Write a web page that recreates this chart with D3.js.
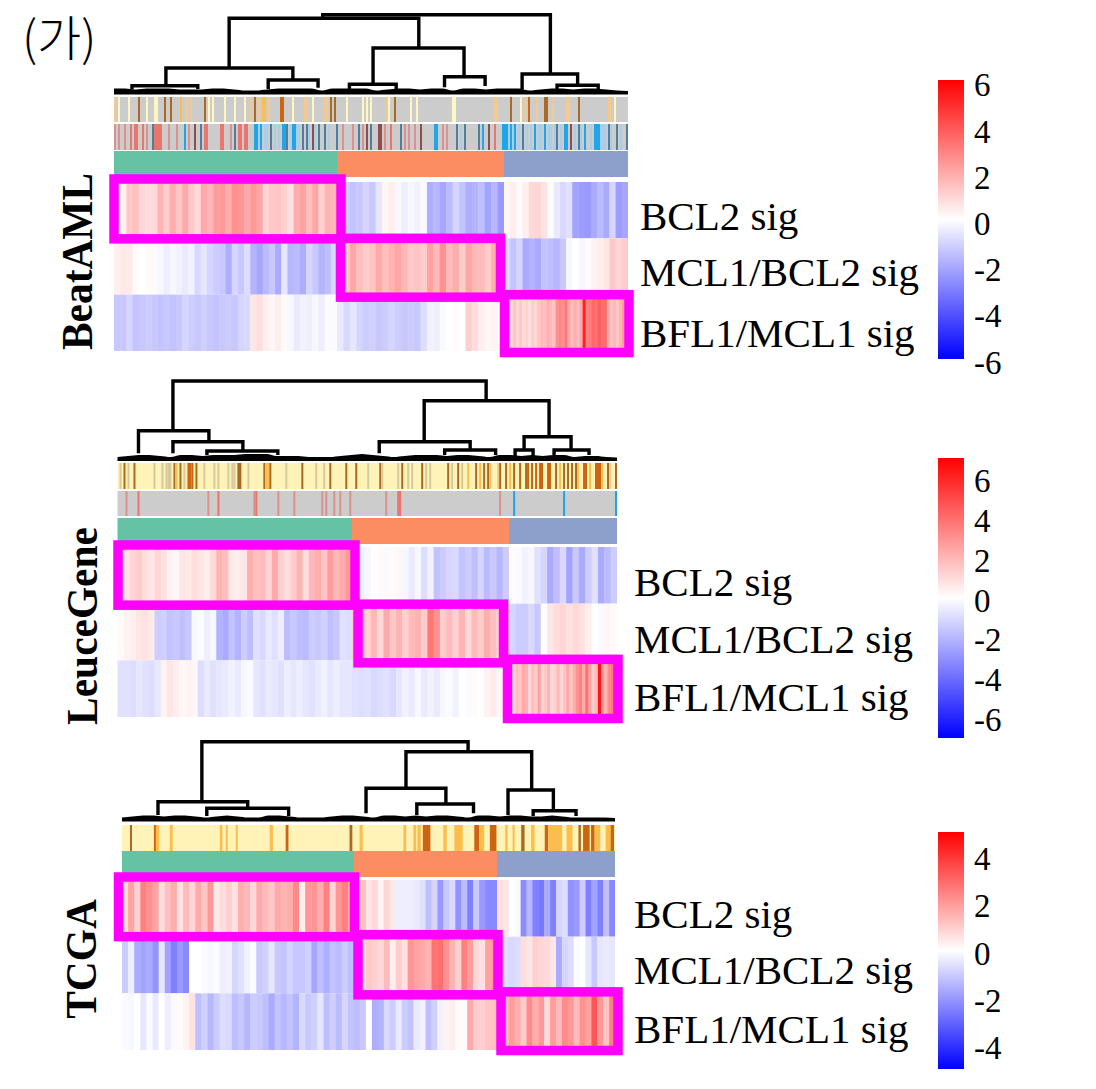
<!DOCTYPE html>
<html>
<head>
<meta charset="utf-8">
<script src="https://cdn.jsdelivr.net/npm/d3@7"></script>
<style>
  html, body { margin: 0; padding: 0; background: #fff; }
  svg { display: block; }
</style>
</head>
<body>
<svg id="chart" width="1096" height="1089"></svg>
<script>
// ---- data ----
const rowNames = ['BCL2 sig', 'MCL1/BCL2 sig', 'BFL1/MCL1 sig'];

// heatmap rows, one list per cluster (green, orange, blue)
const beatBcl2 = [
  [0.6,0.4,1.3,1.5,1.0,0.8,0.9,1.8,1.2,1.9,1.4,2.0,1.3,0.9,2.0,1.7,2.3,2.4,1.9,2.6,2.5,2.0,2.4,2.1,1.0,1.3,1.4,1.1,0.7,1.9,2.2,1.5,2.1,1.1,1.8,1.6],
  [-0.5,-1.2,-1.4,-1.3,-1.0,-1.3,-0.6,0.2,0.4,-0.2,-0.4,-0.2,-0.3,-0.1,-1.9,-1.7,-2.1,-1.6,-1.0,-1.4,-1.9,-1.8,-1.5,-2.2,-1.7,-2.4],
  [0.2,0.4,0.1,0.4,0.9,1.0,0.7,0.1,-0.5,-0.9,-0.7,-2.2,-2.3,-2.4,-2.0,-1.6,-2.0,-1.0,-2.3,-2.1]
];
const beatMcl1 = [
  [0.4,0.5,0.5,0.1,0.0,0.1,0.1,-0.2,-0.4,-0.2,-0.3,-0.5,-0.3,-0.9,-0.6,-1.0,-1.2,-1.3,-1.9,-1.0,-1.3,-0.8,-1.8,-2.1,-1.6,-1.3,-2.0,-0.6,-1.7,-1.6,-1.9,-1.0,-1.3,-1.8,-1.5,-0.9],
  [1.9,1.3,2.1,1.5,1.2,1.4,2.0,1.5,1.8,2.1,1.7,1.3,1.4,1.2,2.2,1.7,2.6,1.6,1.9,1.2,2.1,1.7,1.6,1.2,1.9,1.4],
  [-0.9,-1.4,-1.0,-2.0,-1.8,-2.0,-1.4,-1.5,-1.7,-1.3,-0.2,0.0,-0.2,0.1,0.3,0.4,0.6,1.3,1.0,1.2]
];
const beatBfl1 = [
  [-1.3,-1.3,-1.0,-1.4,-1.3,-1.2,-1.3,-1.4,-1.3,-1.4,-1.3,-1.0,-1.2,-1.3,-1.1,-1.3,-1.4,-1.3,-1.2,-1.3,-1.0,-0.9,0.6,0.8,0.4,0.2,0.4,0.1,-0.2,-0.5,-0.3,-0.4,-0.2,-0.4,-0.1,-0.1],
  [-0.5,-0.9,-0.6,-1.0,-1.2,-1.1,-1.3,-1.2,-1.0,-1.2,-1.3,-1.2,-1.3,-0.8,-0.3,-0.4,-0.1,0.0,0.1,0.0,1.1,0.8,0.4,0.2,0.3,0.1],
  [1,1,1,1.4,1.0,1.3,0.9,1.1,0.8,1.2,1.0,1.4,1.6,1.5,1.9,1.7,1.4,2.6,2.9,2.6,3.2,2.0,1.6,1.9,1.5,2.1,5.2,2.9,3.1,3.6,3.3,3.8,3.4,3.5,2.0,1.4,1.7,1.3,1.8,2.2,2.4]
];

const leuceBcl2 = [
  [0.9,0.7,1.0,1.2,0.8,0.6,1.0,0.7,0.3,0.2,0.6,0.5,0.8,0.6,0.4,0.9,1.8,1.5,0.5,0.4,0.6,1.9,1.5,1.6,1.0,2.0,1.1,0.8,1.2,1.8,0.8,1.7,1.9,1.4,2.3,1.7,2.0,2.4],
  [-0.3,-0.4,-0.2,0,0.1,-0.1,0.1,0.2,-0.2,-0.5,-0.2,-0.8,-0.3,-1.4,-1.2,-1.0,-0.9,-1.4,-1.2,-1.5,-1.0,-1.6,-1.3,-1.7,-1.2],
  [0.1,-0.1,-0.3,-0.2,-0.7,-1.0,-2.0,-1.5,-0.9,-2.2,-1.3,-2.0,-1.2,-0.7,-2.0,-1.6,-1.2]
];
const leuceMcl1 = [
  [0.1,0.3,0.4,0.6,0.7,0.5,-1.2,-1.1,-1.4,-1.3,-1.5,-1.3,-0.2,-0.1,-0.4,-0.2,-1.8,-2.0,-1.4,-1.8,-1.2,-1.5,-0.7,-0.9,-0.5,-0.7,-0.4,-1.6,-1.3,-1.5,-1.6,-1.2,-1.3,-1.1,-1.5,-1.3,-0.7,-0.8],
  [1.2,2.1,1.1,1.7,0.9,2.0,1.3,1.8,1.1,1.6,1.8,1.2,3.2,2.6,1.2,1.6,1.1,1.8,0.9,1.6,1.2,1.9,1.5,1.0,1.6],
  [-1.0,-1.2,-1.2,-0.9,-1.3,0.0,0.6,0.8,1.0,0.7,0.9,0.7,0.4,0.0,-0.1,0.2,0.1]
];
const leuceBfl1 = [
  [-0.7,-0.7,-0.8,-0.6,-0.7,-0.8,-0.6,0.3,0.6,0.4,0.2,0.3,0.2,-0.8,-0.5,-0.7,-0.6,-0.5,-0.3,-0.5,-0.2,-0.1,-0.6,-0.7,-0.5,-0.6,-0.7,-0.4,-0.6,-0.4,-0.6,-0.7,-0.5,-0.3,-0.6,-0.4,-0.6,-0.6],
  [-0.7,-0.8,-0.7,-0.9,-0.8,-0.7,-0.9,-0.6,-0.3,-0.5,-0.2,-0.5,-0.3,-0.5,-0.2,-0.1,-0.3,0.0,-0.1,0.1,0.0,0.3,0.5,0.2,0.1],
  [1,1,1.6,1.3,2.0,1.8,1.0,1.6,1.2,2.2,1.0,1.3,1.8,0.9,1.1,1.6,1.0,1.4,2.1,1.3,1.9,2.6,3.0,2.0,3.4,2.2,1.2,1.6,5.5,2.4,1.8,2.7,3.2,2.2]
];

const tcgaBcl2 = [
  [0.9,2.2,1.1,3.0,2.6,2.2,0.8,1.5,1.9,0.7,1.6,1.0,2.0,1.4,2.4,0.5,0.8,1.1,0.7,1.9,1.7,0.9,2.0,1.6,1.3,2.0,1.8,1.9,2.8,0.4,2.4,2.5,1.9,3.0,1.0,2.5,3.0,2.1],
  [0.1,1.5,0.6,0.9,0.3,1.0,0.5,-0.4,-0.4,-0.4,-0.5,-0.7,-1.5,-1.0,-2.4,-1.3,-0.9,-2.6,-1.6,-3.0,-1.3,-2.4,-2.8,-2.8],
  [0.8,0.6,0.0,-0.1,-2.7,-1.7,-3.0,-3.2,-2.0,-3.0,-1.0,-0.8,-2.6,-2.4,-1.2,-3.0,-2.2,-3.0,-1.5,-2.8]
];
const tcgaMcl1 = [
  [-1.2,-0.4,-2.0,-2.2,-2.0,-2.6,-0.6,-2.2,-3.0,-2.4,-2.8,0,0,-0.1,-0.2,-0.1,-0.4,-0.3,-1.0,-0.7,-0.3,-0.1,-1.3,-1.1,-0.6,-1.3,-1.4,-1.0,-1.3,-1.3,-1.1,-2.1,-1.5,-1.9,-1.4,-1.6,-1.2,-1.5],
  [1.1,0.8,1.3,1.1,0.9,1.6,0.4,1.2,0.7,2.5,2.2,2.0,1.8,3.3,3.4,2.6,1.8,1.1,3.0,2.3,0.9,0.7,2.2,2.4],
  [-1.3,-0.8,-0.9,-0.8,0.8,0.6,1.1,1.0,0.9,0.6,-2.0,-1.0,-0.8,-0.1,0.0,-0.6,-1.3,-0.6,-0.5,-0.6]
];
const tcgaBfl1 = [
  [-0.1,-0.2,0,-0.6,-0.1,-0.5,0,-0.4,-0.1,0.1,0.3,0.7,-1.5,-1.1,-1.7,-1.2,-0.8,-0.9,-1.5,-1.3,-1.7,-1.2,-1.3,-1.5,-2.0,-1.4,-1.7,-1.4,-1.8,-0.9,-1.3,-1.1,-0.6,-1.5,-1.1,-1.6,-1.0,-1.4],
  [-1.5,-1.3,0.0,-1.9,-1.8,-0.9,-1.2,-0.5,-1.2,-1.4,-0.5,-0.3,-1.5,-1.1,-0.3,0.3,0.4,0.1,0.1,2.0,1.2,1.1,1.4,1.4],
  [0.9,1.6,2.3,1.9,1.2,2.7,1.9,2.4,0.9,2.3,1.6,2.7,2.4,1.6,2.6,2.2,4.0,2.4,1.4,3.0]
];

// annotation tracks: [first sample, samples covered, category]
const beatTrackA = [[0,1,'b'],[2,1,'a'],[7,1,'a'],[12,1,'e'],[16,1,'a'],[20,1,'a'],[21,1,'a'],[25,1,'e'],[28,1,'e'],[33,1,'c'],[36,1,'b'],[38,1,'b'],[45,1,'e'],[47,1,'a'],[49,1,'a'],[55,1,'a'],[60,1,'a'],[65,1,'a'],[68,1,'b'],[70,1,'e'],[72,1,'b'],[74,2,'c'],[77,1,'b'],[83,2,'d'],[89,1,'a'],[95,2,'b'],[99,1,'a'],[105,2,'b'],[108,1,'e'],[110,1,'e'],[116,1,'a'],[124,1,'a'],[126,1,'a'],[128,1,'a'],[136,1,'b'],[137,1,'a'],[140,1,'e'],[148,1,'a'],[151,1,'a'],[169,1,'a'],[170,1,'a'],[190,2,'b'],[198,1,'e'],[203,1,'a'],[205,1,'b'],[207,1,'d'],[211,1,'b'],[215,1,'e'],[216,1,'e'],[219,1,'b'],[226,2,'b'],[232,1,'e'],[247,2,'b'],[250,1,'a']];
const beatTrackB = [[0,1,'R'],[2,1,'R'],[5,1,'R'],[8,1,'r'],[10,2,'r'],[14,1,'r'],[16,1,'R'],[19,1,'s'],[20,4,'r'],[27,1,'R'],[31,1,'R'],[35,1,'B'],[37,1,'R'],[40,1,'k'],[43,1,'s'],[45,2,'r'],[53,2,'r'],[58,1,'R'],[60,1,'s'],[62,2,'r'],[65,2,'r'],[70,2,'B'],[72,1,'l'],[73,1,'B'],[75,1,'l'],[76,1,'l'],[78,1,'s'],[80,1,'l'],[82,1,'l'],[84,2,'B'],[86,1,'s'],[88,1,'l'],[89,2,'B'],[91,1,'l'],[92,1,'l'],[94,1,'s'],[96,1,'s'],[97,1,'l'],[99,1,'k'],[100,1,'l'],[102,1,'s'],[105,1,'s'],[107,1,'l'],[111,1,'s'],[114,1,'R'],[119,1,'R'],[122,1,'s'],[124,1,'R'],[126,1,'k'],[128,1,'s'],[132,2,'k'],[135,1,'R'],[138,1,'r'],[143,1,'s'],[145,1,'R'],[147,1,'R'],[150,1,'R'],[153,1,'k'],[160,2,'B'],[164,1,'R'],[166,1,'R'],[171,1,'s'],[173,1,'l'],[175,1,'s'],[182,1,'s'],[184,1,'B'],[187,1,'k'],[190,1,'r'],[194,3,'B'],[197,1,'l'],[198,1,'B'],[199,1,'l'],[200,1,'B'],[202,1,'l'],[204,1,'s'],[206,1,'l'],[208,1,'l'],[210,1,'B'],[212,1,'l'],[213,1,'l'],[215,1,'B'],[217,1,'l'],[218,1,'l'],[220,1,'l'],[221,1,'s'],[223,1,'l'],[225,1,'B'],[226,1,'B'],[228,1,'k'],[230,1,'l'],[232,1,'s'],[233,1,'l'],[235,1,'B'],[238,1,'l'],[240,3,'B'],[243,1,'l'],[244,1,'l'],[245,1,'l'],[247,1,'s'],[248,1,'l'],[251,1,'s'],[253,1,'l'],[256,1,'s']];

const leuceTrackA = [[1,1,'t'],[3,1,'e'],[5,1,'t'],[8,1,'e'],[18,1,'t'],[22,1,'t'],[24,1,'t'],[25,2,'t'],[28,1,'e'],[29,1,'c'],[31,1,'e'],[33,1,'t'],[35,2,'d'],[37,1,'d'],[39,1,'e'],[43,1,'t'],[48,1,'t'],[50,1,'t'],[55,1,'t'],[57,1,'t'],[58,1,'t'],[60,2,'e'],[65,1,'t'],[73,1,'e'],[74,2,'c'],[76,1,'e'],[84,1,'t'],[92,1,'e'],[99,1,'t'],[103,1,'t'],[106,1,'e'],[114,1,'e'],[119,1,'e'],[125,1,'t'],[131,1,'e'],[132,1,'t'],[140,1,'t'],[142,1,'e'],[145,1,'t'],[147,1,'t'],[152,1,'e'],[154,1,'t'],[156,1,'t'],[165,1,'e'],[167,1,'t'],[170,1,'e'],[172,1,'t'],[175,1,'c'],[179,1,'e'],[181,1,'c'],[183,1,'e'],[185,1,'e'],[186,1,'c'],[190,1,'b'],[191,1,'e'],[194,1,'e'],[196,1,'c'],[198,1,'e'],[201,1,'e'],[204,1,'e'],[205,1,'d'],[207,1,'e'],[209,1,'d'],[211,2,'d'],[215,2,'d'],[219,1,'e'],[221,1,'c'],[223,1,'e'],[225,1,'e'],[227,1,'e'],[229,1,'e'],[230,1,'c'],[233,2,'d'],[236,1,'c'],[239,3,'d'],[242,1,'c'],[245,1,'e'],[246,1,'b'],[249,1,'e']];
const leuceTrackB = [[4,1,'R'],[10,1,'r'],[45,1,'R'],[50,1,'r'],[68,1,'R'],[69,1,'r'],[80,1,'R'],[88,1,'R'],[102,1,'R'],[104,1,'R'],[108,1,'R'],[111,1,'R'],[116,1,'R'],[134,1,'R'],[140,2,'r'],[191,1,'R'],[198,1,'B'],[223,1,'B'],[249,1,'B']];

const tcgaTrackA = [[4,1,'e'],[16,1,'d'],[17,1.6,'c'],[24,1.4,'c'],[49,1.3,'c'],[52,1,'c'],[57,1,'c'],[74,1.6,'c'],[82,1.4,'d'],[114,1.4,'e'],[119,1.6,'c'],[141,1.4,'c'],[146,1.4,'c'],[148,1.7,'c'],[150.7,3.8,'d'],[161,1.7,'c'],[166.5,4.2,'c'],[176.5,2.5,'d'],[179,2.5,'c'],[184.3,3.3,'d'],[192,1.2,'c'],[195.7,1,'c'],[200,1.7,'e'],[205,1.7,'c'],[211.8,1.7,'d'],[213.5,7,'c'],[222.7,3,'c'],[228.7,1.2,'e'],[231,3.3,'d'],[235,1.8,'d'],[236.8,2.8,'c'],[242.3,2.5,'c'],[244.8,1.7,'d']];

// dendrogram merges: [left sample %, right sample %, height, left leg end, right leg end]
const beatTree = [
  [40.6,84.9,77.3,73.7,18],[22.4,59.3,73.7,24,44],[10.1,34.8,24,6.3,12],[3.5,16.3,6.3,3,3],
  [30.0,39.7,12,3,4.3],[50.4,68.1,44,7.7,15.3],[45.8,54.9,7.7,3,3],[64.3,72.2,15.3,4.7,6],
  [79.4,90.2,18,3,6.7],[86.2,94.2,6.7,3,3]
];
const leuceTree = [
  [11.1,73.8,77.5,27.8,57.8],[4.2,18.3,27.8,5.2,16.8],[11.1,25.1,16.8,5.2,7.5],[17.9,32.1,7.5,3.5,3.5],
  [61.4,86.4,57.8,16.8,21.8],[52.4,70.6,16.8,5.2,8.5],[65.5,75.7,8.5,3.5,3.5],[81.4,90.8,21.8,8.5,8.5],
  [79.6,83.2,8.5,2.5,2.5],[87.4,94.4,8.5,3.5,3.5]
];
const tcgaTree = [
  [16.2,70.2,77.3,17.3,67.3],[7.3,25.5,17.3,4,10.7],[17.2,33.8,10.7,3,3],[57.6,83.1,67.3,30.7,29],
  [49.5,65.7,30.7,5.7,15],[59.8,71.3,15,4,5.7],[78.3,87.5,29,4,8.3],[83.4,92.1,8.3,3,3]
];

// small merges near the leaves, as a height profile along the samples
const beatLeaves = [3,3,2,3,3,3,2,2,2,3,3,2,1,1,2,3,3,3,3,1,3,3,3,3,1,2,3,3,2,3,3,1,3,3,2,3,3,3,1,2,3,3,2,3,3,2,1,0.5];
const leuceLeaves = [1,2,3,3,2,1,3,3,2,3,3,3,4,4,4,2,2,2,1,1,1,2,3,4,3,2,1,2,3,3,3,2,3,3,2,1,3,3,2,3,2,3,3,1,2,2,1,0.5];
const tcgaLeaves = [1,2,3,3,2,3,3,2,1,2,3,2,1,1,3,3,2,1,1,1,2,3,3,2,1,3,3,2,3,2,3,3,2,1,3,3,2,3,3,2,2,3,2,1,1,1,1,0.5];

const tickBeat = [6, 4, 2, 0, -2, -4, -6];
const tickLeuce = [6, 4, 2, 0, -2, -4, -6];
const tickTcga = [4, 2, 0, -2, -4];

// ---- layout and colours ----
const clusterColors = ['#66c2a5', '#fc8d62', '#8da0cb'];
const trackColors = {
  a: '#fff6c2', t: '#d8c99c', b: '#f3c98e', c: '#fbbe4e', d: '#cc6410', e: '#ab6a22',
  r: '#e8756e', R: '#d9928e', B: '#1fa5e8', l: '#a8cfe6', s: '#4f7f9c', k: '#8c4f4c'
};
const heatColor = d3.scaleLinear().domain([-6, 0, 6]).range(['#0000ff', '#ffffff', '#ff0000']);
const serif = '"Liberation Serif", serif';

const panels = [
  { name: 'BeatAML', nameX: 92, nameY: 261.5, tree: beatTree, leaves: beatLeaves, base: 92,
    left: 114, right: 628, breaks: [337, 504], heat: [182, 351],
    rows: [beatBcl2, beatMcl1, beatBfl1],
    tracks: [{ marks: beatTrackA, n: 257, bg: '#cccccc', y: [97, 122] }, { marks: beatTrackB, n: 257, bg: '#cccccc', y: [124, 150] }],
    cluster: [151, 177],
    boxes: [[0, 4, -3, 0.5], [3.5, -3.5, 0, 2.5], [0.5, 1, 0, 1.5]],
    labelX: 640, labelY: [230, 286, 347],
    bar: { x: 938, w: 26, y: [80, 359], max: 6.04, ticks: tickBeat, dy: 15 } },
  { name: 'LeuceGene', nameX: 97, nameY: 626, tree: leuceTree, leaves: leuceLeaves, base: 458.5,
    left: 117.5, right: 617, breaks: [352, 509], heat: [547, 717],
    rows: [leuceBcl2, leuceMcl1, leuceBfl1],
    tracks: [{ marks: leuceTrackA, n: 250, bg: '#fff3b8', y: [463, 489] }, { marks: leuceTrackB, n: 250, bg: '#cccccc', y: [491, 516] }],
    cluster: [518, 544],
    boxes: [[0.5, 3, -2, 1.5], [6, -5.5, 0.5, 2.5], [-1.5, 1, -1, 1.5]],
    labelX: 634, labelY: [596, 653, 711],
    bar: { x: 938, w: 26, y: [458, 738], max: 7.03, ticks: tickLeuce, dy: 13 } },
  { name: 'TCGA', nameX: 96, nameY: 959, tree: tcgaTree, leaves: tcgaLeaves, base: 819,
    left: 122, right: 615, breaks: [354, 497], heat: [880, 1050],
    rows: [tcgaBcl2, tcgaMcl1, tcgaBfl1],
    tracks: [{ marks: tcgaTrackA, n: 247, bg: '#fff3b8', y: [825, 851] }],
    cluster: [851, 877],
    boxes: [[-3.5, 0.5, -3, 0], [4, 1, -2, 1.5], [4, 3, -1.5, 0.5]],
    labelX: 634, labelY: [928, 984, 1043],
    bar: { x: 938, w: 26, y: [832, 1069], max: 5, ticks: tickTcga, dy: 13.5 } }
];

const svg = d3.select('#chart');

// ---- one dataset block ----
function drawPanel(p, idx) {
  const g = svg.append('g');
  const edges = [p.left, ...p.breaks, p.right];

  // dendrogram
  const xTree = d3.scaleLinear().domain([0, 100]).range([p.left, p.right]);
  const yTree = d3.scaleLinear().domain([0, 100]).range([p.base, p.base - 100]);
  const elbow = d => {
    const path = d3.path();
    path.moveTo(xTree(d[0]), yTree(d[3]));
    path.lineTo(xTree(d[0]), yTree(d[2]));
    path.lineTo(xTree(d[1]), yTree(d[2]));
    path.lineTo(xTree(d[1]), yTree(d[4]));
    return path.toString();
  };
  g.append('g').selectAll('path')
    .data(p.tree)
    .join('path')
      .attr('d', elbow)
      .attr('fill', 'none')
      .attr('stroke', '#000')
      .attr('stroke-width', 3.4);

  const xLeaf = d3.scalePoint().domain(d3.range(p.leaves.length)).range([p.left, p.right]);
  const leafArea = d3.area()
    .curve(d3.curveMonotoneX)
    .x((d, i) => xLeaf(i))
    .y0(yTree(-2.6))
    .y1(d => yTree(d + 0.6));
  g.append('path')
    .attr('d', leafArea(p.leaves))
    .attr('fill', '#000');

  // annotation tracks
  p.tracks.forEach(t => {
    const xs = d3.scaleLinear().domain([0, t.n]).range([p.left, p.right]);
    g.append('rect')
      .attr('x', p.left).attr('width', p.right - p.left)
      .attr('y', t.y[0]).attr('height', t.y[1] - t.y[0])
      .attr('fill', t.bg);
    g.append('g').selectAll('rect')
      .data(t.marks)
      .join('rect')
        .attr('x', d => xs(d[0]))
        .attr('width', d => xs(d[0] + d[1]) - xs(d[0]))
        .attr('y', t.y[0])
        .attr('height', t.y[1] - t.y[0])
        .attr('fill', d => trackColors[d[2]]);
  });

  // cluster bar
  g.append('g').selectAll('rect')
    .data(clusterColors)
    .join('rect')
      .attr('x', (d, i) => edges[i])
      .attr('width', (d, i) => edges[i + 1] - edges[i])
      .attr('y', p.cluster[0])
      .attr('height', p.cluster[1] - p.cluster[0])
      .attr('fill', d => d);

  // heatmap
  const yRow = d3.scaleBand().domain(rowNames).range(p.heat);
  p.rows.forEach((row, r) => {
    row.forEach((values, c) => {
      const xCol = d3.scaleBand().domain(d3.range(values.length)).range([edges[c], edges[c + 1]]);
      g.append('g').selectAll('rect')
        .data(values)
        .join('rect')
          .attr('x', (d, i) => xCol(i))
          .attr('width', (d, i) => xCol.bandwidth() + (i < values.length - 1 ? 0.4 : 0))
          .attr('y', yRow(rowNames[r]))
          .attr('height', yRow.bandwidth())
          .attr('fill', d => heatColor(d));
    });
  });

  // magenta highlight boxes, cluster by row
  g.append('g').selectAll('rect')
    .data(p.boxes)
    .join('rect')
      .attr('x', (d, i) => edges[i] + d[0])
      .attr('width', (d, i) => edges[i + 1] + d[1] - edges[i] - d[0])
      .attr('y', (d, i) => yRow(rowNames[i]) + d[2])
      .attr('height', (d, i) => yRow.bandwidth() + d[3] - d[2])
      .attr('fill', 'none')
      .attr('stroke', '#ff00ff')
      .attr('stroke-width', 9.5);

  // row labels
  g.append('g').selectAll('text')
    .data(rowNames)
    .join('text')
      .attr('x', p.labelX)
      .attr('y', (d, i) => p.labelY[i])
      .attr('font-family', serif)
      .attr('font-size', 41)
      .attr('fill', '#000')
      .text(d => d);

  // dataset name, slightly taller than the plain bold face
  g.append('text')
    .attr('transform', `translate(${p.nameX},${p.nameY}) rotate(-90) scale(1.01,1.09)`)
    .attr('text-anchor', 'middle')
    .attr('font-family', serif)
    .attr('font-weight', 'bold')
    .attr('font-size', 41)
    .attr('fill', '#000')
    .text(p.name);

  // colour bar
  const gradId = 'bar' + idx;
  const grad = svg.append('defs').append('linearGradient')
    .attr('id', gradId)
    .attr('x1', 0).attr('x2', 0).attr('y1', 0).attr('y2', 1);
  grad.selectAll('stop')
    .data([['0%', '#ff0000'], ['50%', '#ffffff'], ['100%', '#0000ff']])
    .join('stop')
      .attr('offset', d => d[0])
      .attr('stop-color', d => d[1]);
  g.append('rect')
    .attr('x', p.bar.x).attr('width', p.bar.w)
    .attr('y', p.bar.y[0]).attr('height', p.bar.y[1] - p.bar.y[0])
    .attr('fill', `url(#${gradId})`);
  const yBar = d3.scaleLinear().domain([p.bar.max, -p.bar.max]).range(p.bar.y);
  const axis = d3.axisRight(yBar).tickValues(p.bar.ticks).tickSize(0).tickPadding(0).tickFormat(d => String(d));
  g.append('g')
    .attr('transform', `translate(${p.bar.x + p.bar.w + 10},0)`)
    .call(axis)
    .call(a => a.select('.domain').remove())
    .call(a => a.selectAll('text')
      .attr('dy', null)
      .attr('y', p.bar.dy)
      .attr('font-family', serif)
      .attr('font-size', 33)
      .attr('fill', '#000'));
}

panels.forEach(drawPanel);

// panel letter
svg.append('text')
  .attr('x', 22)
  .attr('y', 56)
  .attr('font-family', '"Noto Sans CJK KR", sans-serif')
  .attr('font-weight', 300)
  .attr('font-size', 48)
  .attr('fill', '#000')
  .text('(가)');
</script>
</body>
</html>
